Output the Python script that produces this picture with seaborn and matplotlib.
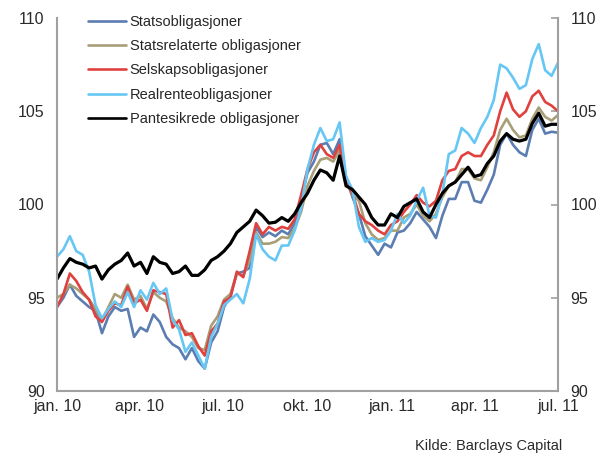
import matplotlib
matplotlib.use("Agg")
import matplotlib.pyplot as plt
import seaborn as sns
import pandas as pd
import numpy as np

# DATA: ukentlige indeksverdier, jan. 2010 - jul. 2011

datoer = pd.date_range("2010-01-01", periods=79, freq="7D")

stats = [94.5, 95.0, 95.7, 95.1, 94.8, 94.5, 94.3, 93.1, 94.0, 94.5,
         94.3, 94.4, 92.9, 93.4, 93.2, 94.1, 93.7, 92.9, 92.5, 92.3,
         91.7, 92.3, 91.6, 91.2, 92.6, 93.2, 94.5, 95.1, 96.3, 96.4,
         96.6, 98.8, 98.25, 98.5, 98.3, 98.6, 98.4, 99.0, 100.3, 101.7,
         102.3, 103.2, 103.3, 102.7, 103.5, 101.4, 100.4, 99.5, 98.3, 97.8,
         97.3, 97.9, 97.7, 98.5, 98.6, 99.0, 99.6, 99.2, 98.8, 98.2,
         99.4, 100.3, 100.3, 101.2, 101.2, 100.2, 100.1, 100.8, 101.6, 103.2,
         103.8, 103.2, 102.8, 102.6, 104.0, 104.6, 103.8, 103.9, 103.85]

statsrelaterte = [95.0, 95.2, 95.7, 95.5, 95.2, 94.9, 94.4, 93.8, 94.5, 95.2,
                  95.0, 95.7, 94.9, 95.1, 94.4, 95.3, 95.0, 94.8, 93.9, 93.4,
                  93.2, 92.9, 92.3, 92.2, 93.5, 94.0, 94.9, 95.2, 96.3, 96.2,
                  97.0, 98.5, 97.9, 97.9, 98.0, 98.25, 98.2, 98.7, 99.6, 101.0,
                  101.8, 102.4, 102.5, 102.3, 102.9, 101.5, 100.5, 100.2, 99.0, 98.4,
                  98.1, 98.2, 98.6, 98.6, 99.3, 99.5, 100.0, 99.4, 99.1, 99.5,
                  100.4, 101.0, 101.2, 101.9, 101.9, 101.4, 101.3, 102.0, 102.8, 104.0,
                  104.6, 104.0, 103.6, 103.7, 104.6, 105.2, 104.7, 104.5, 104.8]

selskap = [94.5, 95.2, 96.3, 95.9, 95.3, 94.9, 94.0, 93.7, 94.3, 94.7,
           94.6, 95.6, 94.7, 94.9, 94.3, 95.4, 95.3, 95.2, 93.4, 93.8,
           93.0, 93.1, 92.4, 91.9, 93.2, 93.6, 94.8, 95.0, 96.4, 96.1,
           97.5, 99.0, 98.4, 98.8, 98.6, 98.8, 98.7, 99.2, 100.5, 101.9,
           102.8, 103.2, 102.7, 102.5, 103.2, 101.2, 100.6, 99.5, 99.1, 98.9,
           98.6, 98.4, 98.9, 99.1, 99.6, 100.0, 100.5, 100.1, 99.9, 100.2,
           101.3, 101.8, 101.9, 102.6, 102.8, 102.6, 102.6, 103.2, 103.7, 105.0,
           106.0, 105.1, 104.7, 105.0, 105.8, 106.1, 105.5, 105.3, 105.0]

realrente = [97.2, 97.6, 98.3, 97.5, 97.3, 96.4, 94.6, 93.9, 94.4, 94.8,
             94.5, 95.3, 94.5, 95.4, 94.9, 95.8, 95.2, 95.5, 93.8, 93.3,
             92.1, 92.6, 91.9, 91.2, 92.9, 93.6, 94.6, 94.9, 95.2, 94.7,
             96.0, 98.4, 97.6, 97.2, 97.0, 97.8, 97.8, 98.6, 99.8, 101.9,
             103.2, 104.1, 103.4, 103.5, 104.4, 101.5, 100.8, 98.8, 98.0, 98.2,
             98.0, 98.1, 98.6, 99.5, 99.0, 99.4, 100.2, 100.9, 99.4, 99.3,
             100.6, 102.7, 102.9, 104.1, 103.8, 103.3, 104.1, 104.7, 105.6, 107.5,
             107.3, 106.8, 106.2, 106.4, 107.8, 108.6, 107.2, 106.9, 107.6]

pantesikrede = [96.0, 96.6, 97.1, 96.9, 96.8, 96.6, 96.7, 96.0, 96.5, 96.8,
                97.0, 97.4, 96.7, 96.9, 96.3, 97.2, 96.9, 96.8, 96.3, 96.4,
                96.7, 96.2, 96.2, 96.5, 97.0, 97.2, 97.5, 97.9, 98.5, 98.8,
                99.1, 99.7, 99.4, 99.0, 99.05, 99.3, 99.1, 99.5, 100.1, 100.6,
                101.3, 101.85, 101.7, 101.3, 102.6, 101.0, 100.8, 100.4, 100.0, 99.3,
                98.9, 98.9, 99.5, 99.3, 99.9, 100.1, 100.3, 99.6, 99.3, 100.0,
                100.6, 101.0, 101.2, 101.6, 102.0, 101.5, 101.6, 102.2, 102.6, 103.4,
                103.8, 103.5, 103.4, 103.5, 104.35, 104.9, 104.2, 104.3, 104.3]

serier = ["Statsobligasjoner", "Statsrelaterte obligasjoner", "Selskapsobligasjoner",
          "Realrenteobligasjoner", "Pantesikrede obligasjoner"]
farger = ["#5B7DB1", "#A89E77", "#E0413E", "#66C7F4", "#000000"]

tick_datoer = pd.to_datetime(["2010-01-01", "2010-04-01", "2010-07-01", "2010-10-01",
                              "2011-01-01", "2011-04-01", "2011-07-01"])
tick_tekst = ["jan. 10", "apr. 10", "jul. 10", "okt. 10", "jan. 11", "apr. 11", "jul. 11"]
y_ticks = [90, 95, 100, 105, 110]

# Lang tabell for seaborn
df = pd.DataFrame({
    "dato": np.tile(datoer, len(serier)),
    "verdi": np.concatenate([stats, statsrelaterte, selskap, realrente, pantesikrede]),
    "serie": np.repeat(serier, len(datoer)),
})

sns.set_style("white")
plt.rcParams["font.family"] = ["Liberation Sans", "DejaVu Sans"]

fig = plt.figure(figsize=(6.1, 4.54), dpi=100)
ax = fig.add_axes([57 / 610, 1 - 391 / 454, 501 / 610, 373 / 454])

sns.lineplot(data=df, x="dato", y="verdi", hue="serie", hue_order=serier,
             palette=farger, linewidth=1.9, ax=ax)
ax.lines[4].set_linewidth(2.3)

# Akser
ax.set_xlim(tick_datoer[0], tick_datoer[-1])
ax.set_ylim(90, 110)
ax.set_xticks(tick_datoer)
ax.set_xticklabels(tick_tekst)
ax.set_yticks(y_ticks)
ax.set_xlabel("")
ax.set_ylabel("")

ax.spines["top"].set_visible(False)
for side in ["left", "right", "bottom"]:
    ax.spines[side].set_color("#a0a0a0")
    ax.spines[side].set_linewidth(1.5)

ax.tick_params(axis="both", direction="in", length=5, width=1.2, color="#a0a0a0",
               labelsize=11.5, labelcolor="#2a2a2a")
ax.tick_params(axis="y", right=True, labelright=True, pad=9)
ax.tick_params(axis="x", pad=6)

# Legende
handles, labels = ax.get_legend_handles_labels()
ax.legend(handles, labels, loc="upper left", bbox_to_anchor=(88 / 610, 1 - 15 / 454),
          bbox_transform=fig.transFigure, frameon=False, fontsize=10.5,
          handlelength=2.6, handletextpad=0.25, labelspacing=0.7,
          borderpad=0, borderaxespad=0)

fig.text(562 / 610, 1 - 446 / 454, "Kilde: Barclays Capital", ha="right", va="center",
         fontsize=10.5, color="#2a2a2a")

fig.savefig("out.png", dpi=100)
